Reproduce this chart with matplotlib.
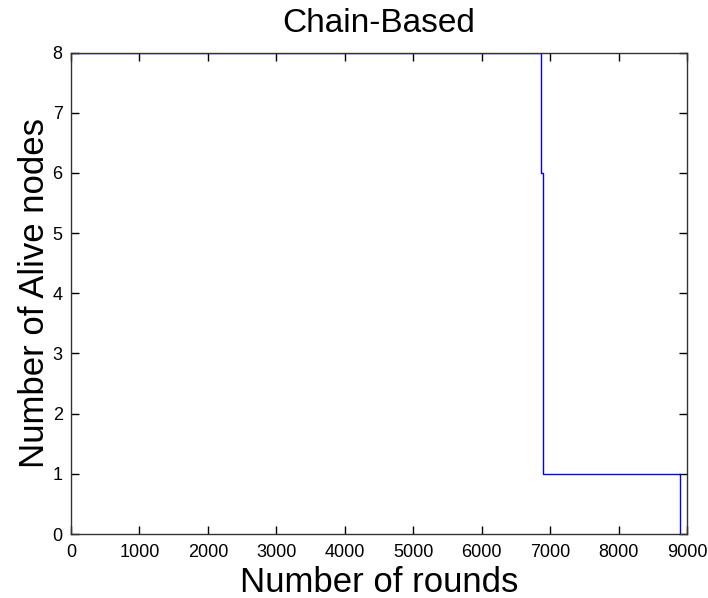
import numpy as np
import matplotlib
matplotlib.use('Agg')
import matplotlib.pyplot as plt

plt.rcParams['font.family'] = ['Liberation Sans', 'DejaVu Sans']

# rounds at which the number of alive nodes changes
rounds = np.array([0, 6870, 6890, 8900])
alive = np.array([8, 6, 1, 0])

fig = plt.figure(figsize=(7.08, 5.98), dpi=100)
ax = fig.add_axes([0.1003, 0.107, 0.8700, 0.805])

ax.plot(rounds, alive, '-', color='#0000ff', lw=1.0, drawstyle='steps-post')

ax.set_xlim(0, 9000)
ax.set_ylim(0, 8)
ax.set_xticks(np.arange(0, 9001, 1000))
ax.set_yticks(np.arange(0, 9, 1))
ax.tick_params(direction='in', top=True, right=True, length=6, width=1,
               labelsize=13)
ax.tick_params(axis='x', pad=7)
ax.tick_params(axis='y', pad=6)
for s in ax.spines.values():
    s.set_linewidth(1.0)
    s.set_color('#333333')

ax.set_title('Chain-Based', fontsize=24, pad=15)
ax.set_xlabel('Number of rounds', fontsize=25, labelpad=4)
ax.set_ylabel('Number of Alive nodes', fontsize=25, labelpad=1)

fig.savefig('out.png', dpi=100)
